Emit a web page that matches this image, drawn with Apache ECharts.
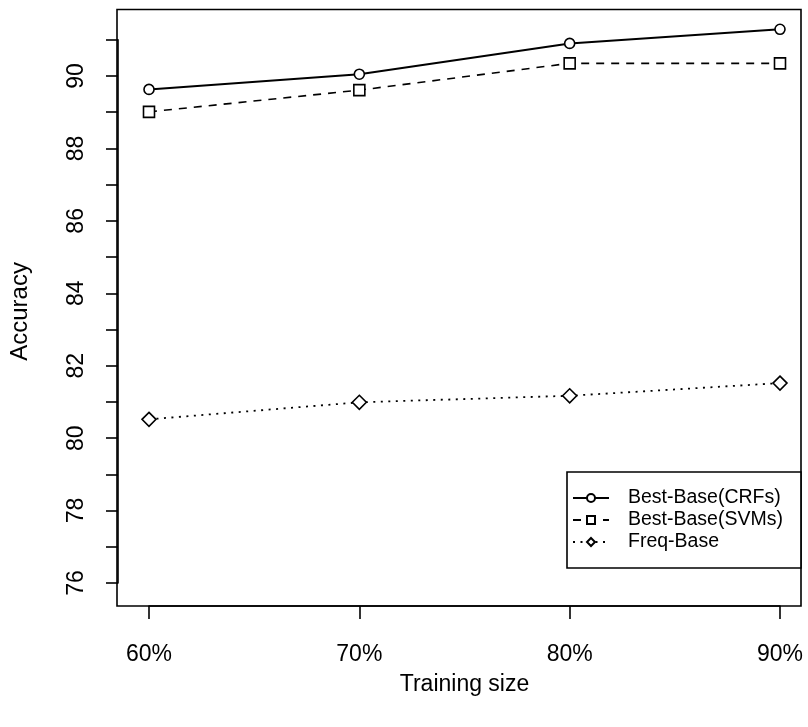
<!DOCTYPE html>
<html>
<head>
<meta charset="utf-8">
<script src="https://cdn.jsdelivr.net/npm/echarts@6/dist/echarts.min.js"></script>
<style>
  html, body { margin: 0; padding: 0; background: #fff; }
  #chart { width: 808px; height: 727px; }
</style>
</head>
<body>
<div id="chart"></div>
<script>
// Accuracy by training-set size for three baselines
const trainingSizes = ['60%', '70%', '80%', '90%'];
const crfAccuracy  = [89.63, 90.05, 90.90, 91.29];
const svmAccuracy  = [89.01, 89.61, 90.35, 90.35];
const freqAccuracy = [80.52, 80.99, 81.17, 81.52];
const seriesNames = ['Best-Base(CRFs)', 'Best-Base(SVMs)', 'Freq-Base'];
const yMin = 76, yMax = 91, yStep = 1;

const FONT = 'Liberation Sans, Arial, Helvetica, sans-serif';
const chart = echarts.init(document.getElementById('chart'), null, { renderer: 'canvas' });

function lineSeries(name, values, symbol, size, dash, width) {
  return {
    name: name,
    type: 'line',
    xAxisIndex: 0,
    yAxisIndex: 0,
    data: values,
    symbol: symbol,
    symbolSize: size,
    showAllSymbol: true,
    clip: false,
    animation: false,
    lineStyle: { color: '#000', width: width, type: dash },
    itemStyle: { color: '#fff', borderColor: '#000', borderWidth: 1.6 },
    emphasis: { disabled: true }
  };
}

chart.setOption({
  backgroundColor: '#fff',
  animation: false,
  textStyle: { fontFamily: FONT, color: '#000' },
  grid: [
    // data area: spans exactly the tick range of both axes
    { left: 148, right: 28, top: 39.8, bottom: 144, show: false },
    // surrounding plot frame
    { left: 117, right: 7, top: 9.5, bottom: 121, show: true, borderColor: '#000', borderWidth: 1.6, backgroundColor: 'transparent' }
  ],
  xAxis: [
    {
      type: 'category',
      gridIndex: 0,
      data: trainingSizes,
      boundaryGap: false,
      offset: 23,
      axisLine: { show: true, lineStyle: { color: '#000', width: 1.6 } },
      axisTick: { show: true, inside: false, length: 13, alignWithLabel: true, lineStyle: { color: '#000', width: 1.6 } },
      axisLabel: { fontSize: 23, fontFamily: FONT, color: '#000', margin: 37 },
      splitLine: { show: false },
      name: 'Training size',
      nameLocation: 'middle',
      nameGap: 67,
      nameTextStyle: { fontSize: 23, fontFamily: FONT, color: '#000' }
    },
    { type: 'value', gridIndex: 1, show: false, min: 0, max: 1 }
  ],
  yAxis: [
    {
      type: 'value',
      gridIndex: 0,
      min: yMin,
      max: yMax,
      interval: yStep,
      offset: 31,
      axisLine: { show: true, lineStyle: { color: '#000', width: 1.6 } },
      axisTick: { show: true, inside: false, length: 12, lineStyle: { color: '#000', width: 1.6 } },
      axisLabel: {
        fontSize: 23, fontFamily: FONT, color: '#000', margin: 30, rotate: 90,
        align: 'center', verticalAlign: 'bottom',
        formatter: v => (v % 2 === 0 && v < yMax) ? String(v) : ''
      },
      splitLine: { show: false },
      name: 'Accuracy',
      nameLocation: 'middle',
      nameRotate: 90,
      nameGap: 86,
      nameTextStyle: { fontSize: 24, fontFamily: FONT, color: '#000' }
    },
    { type: 'value', gridIndex: 1, show: false, min: 0, max: 1 }
  ],
  legend: {
    orient: 'vertical',
    left: 567,
    top: 472,
    padding: [15, 18, 15, 5],
    itemGap: 0,
    itemWidth: 36,
    itemHeight: 10,
    borderColor: '#000',
    borderWidth: 1.6,
    backgroundColor: '#fff',
    selectedMode: false,
    data: seriesNames,
    textStyle: { fontSize: 19.5, fontFamily: FONT, color: '#000', lineHeight: 22, padding: [0, 0, 0, 14] }
  },
  series: [
    lineSeries(seriesNames[0], crfAccuracy, 'circle', 10, 'solid', 2),
    lineSeries(seriesNames[1], svmAccuracy, 'rect', 11, [8, 7], 1.6),
    lineSeries(seriesNames[2], freqAccuracy, 'diamond', 14, [2, 5.5], 1.8)
  ]
});
</script>
</body>
</html>
